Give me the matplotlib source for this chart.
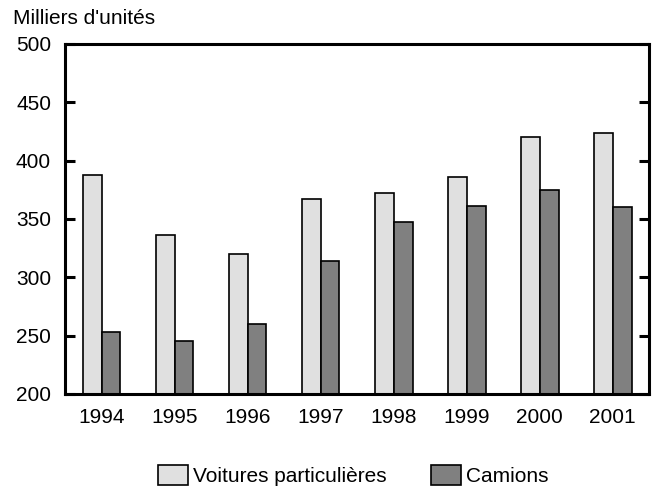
import matplotlib
matplotlib.use("Agg")
import matplotlib.pyplot as plt
import numpy as np

plt.rcParams["font.family"] = ["Liberation Sans", "DejaVu Sans"]

years = ["1994", "1995", "1996", "1997", "1998", "1999", "2000", "2001"]
voitures = [388, 336, 320, 367, 372, 386, 420, 424]
camions = [253, 245, 260, 314, 347, 361, 375, 360]

fig = plt.figure(figsize=(6.54, 4.91), dpi=100)
ax = fig.add_axes([0.0994, 0.1976, 0.893, 0.7128])

x = np.arange(len(years))
w = 0.26
ax.bar(x - w / 2, np.array(voitures) - 200, w, bottom=200, color="#e0e0e0",
       edgecolor="black", linewidth=1.2, label="Voitures particulières")
ax.bar(x + w / 2, np.array(camions) - 200, w, bottom=200, color="#808080",
       edgecolor="black", linewidth=1.2, label="Camions")

ax.set_xlim(-0.5, 7.5)
ax.set_ylim(200, 500)
ax.set_yticks([200, 250, 300, 350, 400, 450, 500])
ax.set_xticks(x)
ax.set_xticklabels(years)
ax.tick_params(axis="y", direction="in", length=7, width=2.2, right=True,
               labelsize=15, pad=10)
ax.tick_params(axis="x", length=0, labelsize=15, pad=10)
for s in ax.spines.values():
    s.set_linewidth(2.2)

fig.text(0.02, 0.963, "Milliers d'unités", fontsize=15, va="center")

fig.legend(loc="center", bbox_to_anchor=(0.54, 0.031), ncol=2, frameon=False,
           fontsize=15, handlelength=1.45, handleheight=1.1,
           columnspacing=2.1, handletextpad=0.25,
           borderpad=0, borderaxespad=0)

fig.savefig("out.png", dpi=100)
